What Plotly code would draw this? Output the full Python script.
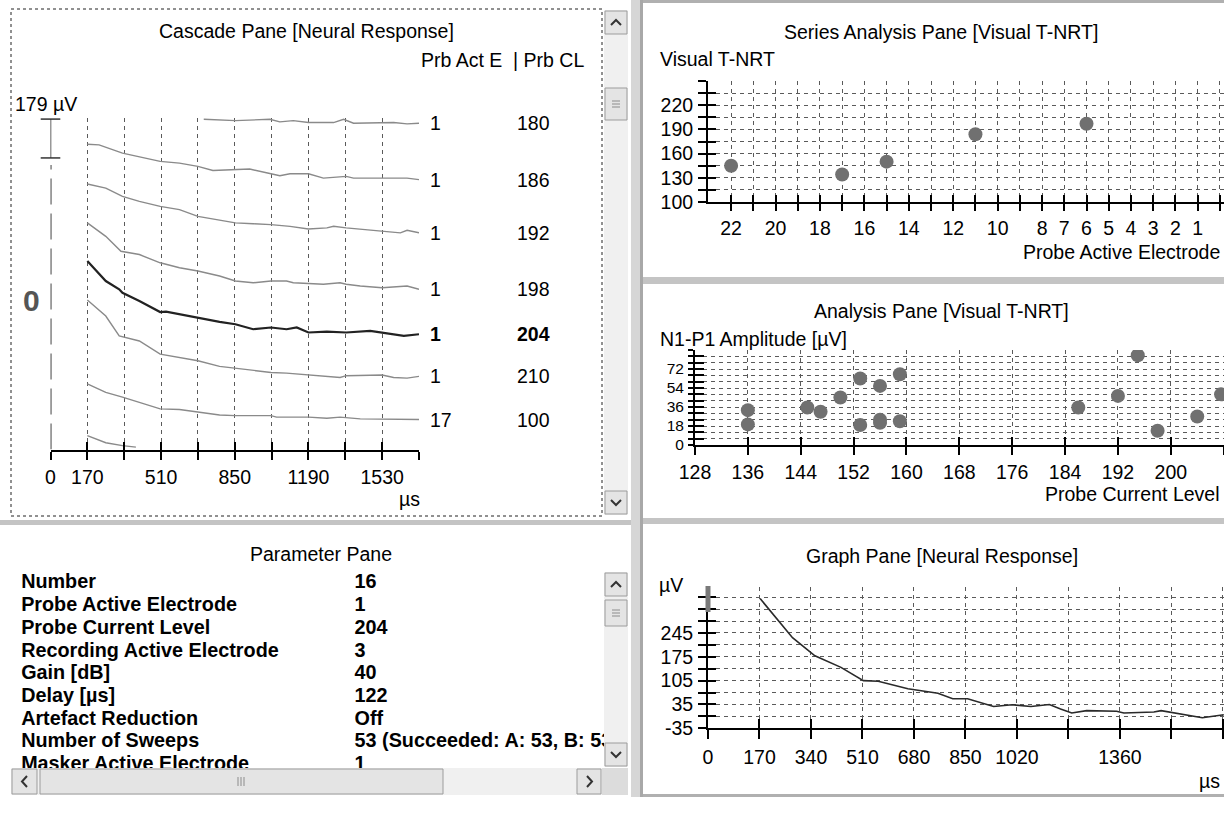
import plotly.graph_objects as go

W, H = 1224, 827
FONT = "Liberation Sans"
GRID = "#5a5a5a"
GDASH = "4px,4px"
TRACE_GRAY = "#8a8a8a"
FS = 19.5

# ---------------- Cascade pane (x: µs, y: µV incl. cascade offset) ----------------
c180_x = [707, 853, 1012, 1058, 1120, 1190, 1306, 1352, 1398, 1530, 1583, 1645, 1700]
c180_y = [1521, 1515, 1521, 1509, 1515, 1506, 1506, 1521, 1503, 1503, 1506, 1500, 1503]
c186_x = [170, 224, 332, 410, 506, 595, 680, 749, 853, 919, 1017, 1058, 1105, 1190, 1259, 1364, 1398, 1530, 1645, 1700]
c186_y = [1406, 1403, 1365, 1347, 1327, 1319, 1304, 1285, 1288, 1292, 1270, 1261, 1270, 1270, 1250, 1258, 1250, 1250, 1250, 1243]
c192_x = [170, 255, 332, 410, 506, 595, 680, 780, 853, 935, 1017, 1105, 1190, 1275, 1306, 1364, 1460, 1530, 1614, 1645, 1700]
c192_y = [1223, 1204, 1166, 1143, 1120, 1105, 1074, 1056, 1044, 1040, 1036, 1028, 1016, 1021, 1028, 1021, 1013, 1008, 998, 1010, 998]
c198_x = [170, 255, 325, 410, 506, 595, 680, 780, 853, 935, 1017, 1089, 1120, 1190, 1259, 1336, 1364, 1429, 1530, 1645, 1700]
c198_y = [1044, 982, 913, 898, 860, 837, 822, 799, 776, 768, 776, 776, 768, 764, 761, 768, 761, 753, 745, 753, 738]
c204_x = [170, 255, 317, 332, 410, 506, 533, 595, 680, 780, 853, 935, 1017, 1089, 1136, 1190, 1275, 1364, 1475, 1530, 1630, 1700]
c204_y = [868, 776, 738, 722, 684, 633, 635, 623, 608, 588, 577, 554, 562, 554, 562, 539, 543, 539, 546, 539, 523, 531]
c210_x = [170, 255, 317, 410, 506, 595, 680, 780, 853, 935, 1017, 1089, 1151, 1190, 1275, 1336, 1364, 1429, 1530, 1583, 1645, 1700]
c210_y = [689, 615, 523, 500, 439, 424, 409, 383, 374, 367, 355, 352, 347, 347, 340, 332, 340, 340, 343, 332, 329, 337]
c100_x = [170, 255, 332, 410, 506, 595, 680, 780, 853, 935, 1017, 1043, 1190, 1275, 1336, 1429, 1530, 1700]
c100_y = [302, 263, 241, 218, 187, 184, 174, 159, 156, 156, 156, 149, 149, 144, 149, 141, 141, 138]
ctail_x = [170, 255, 332, 394]
ctail_y = [64, 31, 18, 11]
cascade_act_e = ["1", "1", "1", "1", "1", "1", "17"]
cascade_cl = ["180", "186", "192", "198", "204", "210", "100"]
cascade_ticks = [0, 170, 340, 510, 680, 850, 1020, 1190, 1360, 1530, 1700]
cascade_ticktext = ["0", "170", "", "510", "", "850", "", "1190", "", "1530", ""]
scale_bar_uv = 179
scale_bar_top = 1522
zero_line_top = 1311

# ---------------- Series analysis pane ----------------
series_electrode = [22, 17, 15, 11, 6]
series_tnrt = [145, 134, 150, 184, 197]
series_xticks = list(range(0, 23))
series_xticktext = ["" if (e > 8 and e % 2 == 1) or e == 0 else str(e) for e in series_xticks]
series_yticks = list(range(100, 251, 15))
series_yticktext = ["100", "", "130", "", "160", "", "190", "", "220", "", ""]

# ---------------- Analysis pane ----------------
analysis_cl = [136, 136, 145, 147, 150, 153, 153, 156, 156, 156, 159, 159, 186, 192, 195, 198, 204, 207.6]
analysis_amp = [33, 19.5, 35.5, 31.5, 45, 63, 19, 56, 21, 24, 67, 22.5, 35.5, 46.5, 85, 13.5, 27, 48]
analysis_xticks = list(range(128, 209, 8))
analysis_xticktext = ["128", "136", "144", "152", "160", "168", "176", "184", "192", "200", ""]
analysis_yticks = list(range(0, 91, 6))
analysis_yticktext = [str(v) if v % 18 == 0 and v <= 72 else "" for v in analysis_yticks]

# ---------------- Graph pane ----------------
graph_t = [172, 279, 353, 439, 513, 562, 660, 759, 808, 857, 943, 1004, 1066, 1127, 1164, 1201, 1250, 1349, 1373, 1472, 1496, 1558, 1632, 1703]
graph_uv = [346, 231, 178, 144, 105, 103, 81, 68, 52, 52, 29, 34, 29, 35, 22, 10, 17, 15, 10, 13, 17, 8, -4, 5]
graph_xticks = [0, 170, 340, 510, 680, 850, 1020, 1190, 1360, 1530, 1700]
graph_xticktext = ["0", "170", "340", "510", "680", "850", "1020", "", "1360", "", ""]
graph_yticks = list(range(-35, 351, 35))
graph_yticktext = ["-35", "", "35", "", "105", "", "175", "", "245", "", "", ""]

# ---------------- Parameter pane ----------------
param_names = ["Number", "Probe Active Electrode", "Probe Current Level", "Recording Active Electrode",
               "Gain [dB]", "Delay [µs]", "Artefact Reduction", "Number of Sweeps", "Masker Active Electrode"]
param_values = ["16", "1", "204", "3", "40", "122", "Off", "53 (Succeeded: A: 53, B: 53)", "1"]


def fx(px):
    return px / W


def fy(py):
    return 1 - py / H


fig = go.Figure()

# ---------- cascade traces ----------
cascade_series = [(c180_x, c180_y), (c186_x, c186_y), (c192_x, c192_y), (c198_x, c198_y),
                  (c204_x, c204_y), (c210_x, c210_y), (c100_x, c100_y), (ctail_x, ctail_y)]
for i, (xs, ys) in enumerate(cascade_series):
    bold = (i == 4)
    fig.add_trace(go.Scatter(x=xs, y=ys, mode="lines", xaxis="x", yaxis="y",
                             line=dict(color="#222222" if bold else TRACE_GRAY, width=2.2 if bold else 1.4),
                             showlegend=False, hoverinfo="skip"))
fig.add_trace(go.Scatter(x=[0, 0], y=[0, zero_line_top], mode="lines", xaxis="x", yaxis="y",
                         line=dict(color="#555555", width=2.2, dash="26px,9px"),
                         showlegend=False, hoverinfo="skip", cliponaxis=False))
fig.add_trace(go.Scatter(x=[0, 0], y=[scale_bar_top - scale_bar_uv, scale_bar_top], mode="lines+markers",
                         xaxis="x", yaxis="y", line=dict(color="#333333", width=1.5),
                         marker=dict(symbol="line-ew-open", size=14, line=dict(color="#333333", width=1.5)),
                         showlegend=False, hoverinfo="skip", cliponaxis=False))

# ---------- series / analysis / graph traces ----------
fig.add_trace(go.Scatter(x=series_electrode, y=series_tnrt, mode="markers", xaxis="x2", yaxis="y2",
                         marker=dict(color="#707070", size=14), showlegend=False, hoverinfo="skip"))
fig.add_trace(go.Scatter(x=analysis_cl, y=analysis_amp, mode="markers", xaxis="x3", yaxis="y3",
                         marker=dict(color="#707070", size=14), showlegend=False, hoverinfo="skip"))
fig.add_trace(go.Scatter(x=graph_t, y=graph_uv, mode="lines", xaxis="x4", yaxis="y4",
                         line=dict(color="#2a2a2a", width=1.6), showlegend=False, hoverinfo="skip"))

# ---------- parameter pane as clipped text ----------
n = len(param_names)
fig.add_trace(go.Scatter(x=[0.0] * n, y=list(range(n)), mode="text", text=param_names,
                         textposition="middle right", xaxis="x5", yaxis="y5",
                         textfont=dict(family=FONT, size=19.8, color="black", weight="bold"),
                         showlegend=False, hoverinfo="skip"))
fig.add_trace(go.Scatter(x=[0.552] * n, y=list(range(n)), mode="text", text=param_values,
                         textposition="middle right", xaxis="x5", yaxis="y5",
                         textfont=dict(family=FONT, size=19.8, color="black", weight="bold"),
                         showlegend=False, hoverinfo="skip"))

for k in (6, 7, 8, 9):
    fig.add_trace(go.Scatter(x=[None], y=[None], xaxis=f"x{k}", yaxis=f"y{k}",
                             showlegend=False, hoverinfo="skip"))

tickfont = dict(family=FONT, size=FS, color="black")


def main_axis(dom, rng, anchor, tickvals, ticktext, ticklen, fsize=FS):
    return dict(domain=dom, range=rng, autorange=False, anchor=anchor, tickvals=tickvals, ticktext=ticktext,
                ticks="outside", ticklen=ticklen, tickwidth=1.6, tickcolor="black",
                showline=True, linecolor="black", linewidth=2, showgrid=False, zeroline=False,
                tickfont=dict(family=FONT, size=fsize, color="black"), fixedrange=True,
                ticklabelstandoff=1, automargin=False)


def overlay_axis(over, rng, anchor, tickvals, ticklen):
    return dict(overlaying=over, range=rng, autorange=False, anchor=anchor, tickvals=tickvals,
                showticklabels=False, ticks="inside", ticklen=ticklen, tickwidth=1.6, tickcolor="black",
                showline=False, showgrid=True, gridcolor=GRID, gridwidth=1, griddash=GDASH,
                zeroline=False, fixedrange=True, automargin=False)


def hidden_axis(**kw):
    d = dict(visible=False, fixedrange=True, automargin=False, autorange=False)
    d.update(kw)
    return d


casc_xr = [0, 1700]
casc_yr = [0, 1527]
ser_xr = [23.04, -0.19]
ser_yr = [100, 250]
ana_xr = [128, 208.05]
ana_yr = [0, 90]
gr_xr = [0, 1703.6]
gr_yr = [-35, 380]

fig.update_layout(
    width=W, height=H, margin=dict(l=0, r=0, t=0, b=0, pad=0, autoexpand=False), autosize=False,
    paper_bgcolor="white", plot_bgcolor="rgba(0,0,0,0)",
    font=dict(family=FONT, size=FS, color="black"),
    xaxis=main_axis([fx(50.5), fx(419)], casc_xr, "y", cascade_ticks, cascade_ticktext, 8),
    yaxis=hidden_axis(domain=[fy(449.5), fy(118)], range=casc_yr, anchor="x"),
    xaxis6=overlay_axis("x", casc_xr, "y6", cascade_ticks[1:], 8),
    yaxis6=hidden_axis(overlaying="y", range=casc_yr, anchor="x6"),

    xaxis2=main_axis([fx(708), fx(1224)], ser_xr, "y2", series_xticks, series_xticktext, 7),
    yaxis2=main_axis([fy(202), fy(81)], ser_yr, "x2", series_yticks, series_yticktext, 8),
    xaxis7=overlay_axis("x2", ser_xr, "y7", series_xticks, 7),
    yaxis7=overlay_axis("y2", ser_yr, "x7", series_yticks[1:], 8),

    xaxis3=main_axis([fx(695), fx(1224)], ana_xr, "y3", analysis_xticks, analysis_xticktext, 8),
    yaxis3=main_axis([fy(445), fy(350)], ana_yr, "x3", analysis_yticks, analysis_yticktext, 5, fsize=15.5),
    xaxis8=overlay_axis("x3", ana_xr, "y8", analysis_xticks[1:], 8),
    yaxis8=overlay_axis("y3", ana_yr, "x8", analysis_yticks[1:], 9),

    xaxis4=main_axis([fx(708), fx(1224)], gr_xr, "y4", graph_xticks, graph_xticktext, 9),
    yaxis4=main_axis([fy(728.3), fy(587)], gr_yr, "x4", graph_yticks, graph_yticktext, 8),
    xaxis9=overlay_axis("x4", gr_xr, "y9", graph_xticks[1:], 9),
    yaxis9=overlay_axis("y4", gr_yr, "x9", graph_yticks[1:], 8),

    xaxis5=hidden_axis(domain=[fx(0), fx(604)], range=[-0.035, 0.965], anchor="y5"),
    yaxis5=hidden_axis(domain=[fy(768), fy(570)], range=[(768 - 583.5) / 22.7, (570 - 583.5) / 22.7],
                       anchor="x5"),
)

# ---------- shapes ----------
shapes = []


def rect(x0, y0, x1, y1, fill, line=None, lw=1, layer="below", dash=None):
    d = dict(type="rect", xref="paper", yref="paper", x0=fx(x0), x1=fx(x1), y0=fy(y1), y1=fy(y0),
             fillcolor=fill, layer=layer, line=dict(width=lw if line else 0, color=line or fill))
    if dash:
        d["line"]["dash"] = dash
    shapes.append(d)


def path(points, color="#333333", width=2):
    s = "M " + " L ".join(f"{fx(a)},{fy(b)}" for a, b in points)
    shapes.append(dict(type="path", xref="paper", yref="paper", path=s, layer="above",
                       line=dict(color=color, width=width)))


rect(631, 0, 640, 797, "#d6d6d6")
rect(640, 0, 643, 797, "#a8a8a8")
rect(0, 520, 631, 525, "#c4c4c4")
rect(643, 0, 1224, 3, "#b0b0b0")
rect(643, 277, 1224, 284, "#c4c4c4")
rect(643, 518, 1224, 524, "#c4c4c4")
rect(643, 794, 1224, 797, "#b0b0b0")
rect(11, 9, 602, 516, "rgba(0,0,0,0)", line="#222222", lw=1, dash="dot")
# thick grey marker at the top of the graph-pane y axis
rect(705.5, 586, 710.5, 612, "#7a7a7a", layer="above")


def vscroll(x0, x1, y0, y1, thumb0, thumb1):
    rect(x0, y0, x1, y1, "#f0f0f0", layer="above")
    rect(x0 + 1, y0 + 1, x1 - 1, y0 + 24, "#e4e4e4", line="#9c9c9c", layer="above")
    rect(x0 + 1, y1 - 24, x1 - 1, y1 - 1, "#e4e4e4", line="#9c9c9c", layer="above")
    rect(x0 + 1, thumb0, x1 - 1, thumb1, "#e4e4e4", line="#9c9c9c", layer="above")
    cx = (x0 + x1) / 2
    cy = y0 + 12
    path([(cx - 5, cy + 3), (cx, cy - 2), (cx + 5, cy + 3)])
    cy = y1 - 12
    path([(cx - 5, cy - 3), (cx, cy + 2), (cx + 5, cy - 3)])
    tm = (thumb0 + thumb1) / 2
    for d in (-3, 0, 3):
        path([(cx - 4, tm + d), (cx + 4, tm + d)], color="#8c8c8c", width=1)


vscroll(604, 628, 10, 515, 88, 120)
vscroll(604, 628, 572, 767, 600, 626)
rect(11, 768, 602, 795, "#f0f0f0", layer="above")
rect(12, 769, 37, 794, "#e4e4e4", line="#9c9c9c", layer="above")
rect(577, 769, 601, 794, "#e4e4e4", line="#9c9c9c", layer="above")
rect(40, 769, 443, 794, "#e4e4e4", line="#9c9c9c", layer="above")
rect(602, 768, 628, 795, "#dcdcdc", layer="above")
path([(27, 776), (22, 781.5), (27, 787)])
path([(587, 776), (592, 781.5), (587, 787)])
for d in (-3, 0, 3):
    path([(241 + d, 777), (241 + d, 786)], color="#8c8c8c", width=1)

fig.update_layout(shapes=shapes)

# ---------- annotations ----------
ann = []


def text(x, y, s, size=FS, xanchor="center", bold=False, color="black", xref="paper", yref="paper"):
    ann.append(dict(x=x, y=y, xref=xref, yref=yref, text=(f"<b>{s}</b>" if bold else s), showarrow=False,
                    xanchor=xanchor, yanchor="middle", font=dict(family=FONT, size=size, color=color)))


text(fx(306), fy(31), "Cascade Pane [Neural Response]")
text(fx(586), fy(60), "Prb Act E  | Prb CL", xanchor="right")
text(fx(13), fy(104), "179 µV", xanchor="left")
text(fx(31), fy(300), "0", size=30, bold=True, color="#555555")
text(fx(410), fy(499), "µs")
for i, (e, cl) in enumerate(zip(cascade_act_e, cascade_cl)):
    xs, ys = cascade_series[i]
    text(fx(428), ys[-1], e, xanchor="left", bold=(i == 4), yref="y")
    text(fx(515), ys[-1], cl, xanchor="left", bold=(i == 4), yref="y")

text(fx(941), fy(32), "Series Analysis Pane [Visual T-NRT]")
text(fx(658), fy(59), "Visual T-NRT", xanchor="left")
text(fx(1222), fy(252), "Probe Active Electrode", xanchor="right")

text(fx(941), fy(311), "Analysis Pane [Visual T-NRT]")
text(fx(658), fy(339), "N1-P1 Amplitude [µV]", xanchor="left")
text(fx(1222), fy(494), "Probe Current Level", xanchor="right")

text(fx(942), fy(556), "Graph Pane [Neural Response]")
text(fx(657), fy(585), "µV", xanchor="left")
text(fx(1222), fy(781), "µs", xanchor="right")

text(fx(321), fy(554), "Parameter Pane")

fig.update_layout(annotations=ann)

fig.write_html("out.html", config={"displayModeBar": False},
               post_script="document.documentElement.style.overflow='hidden';document.body.style.margin='0';document.body.style.overflow='hidden';")
